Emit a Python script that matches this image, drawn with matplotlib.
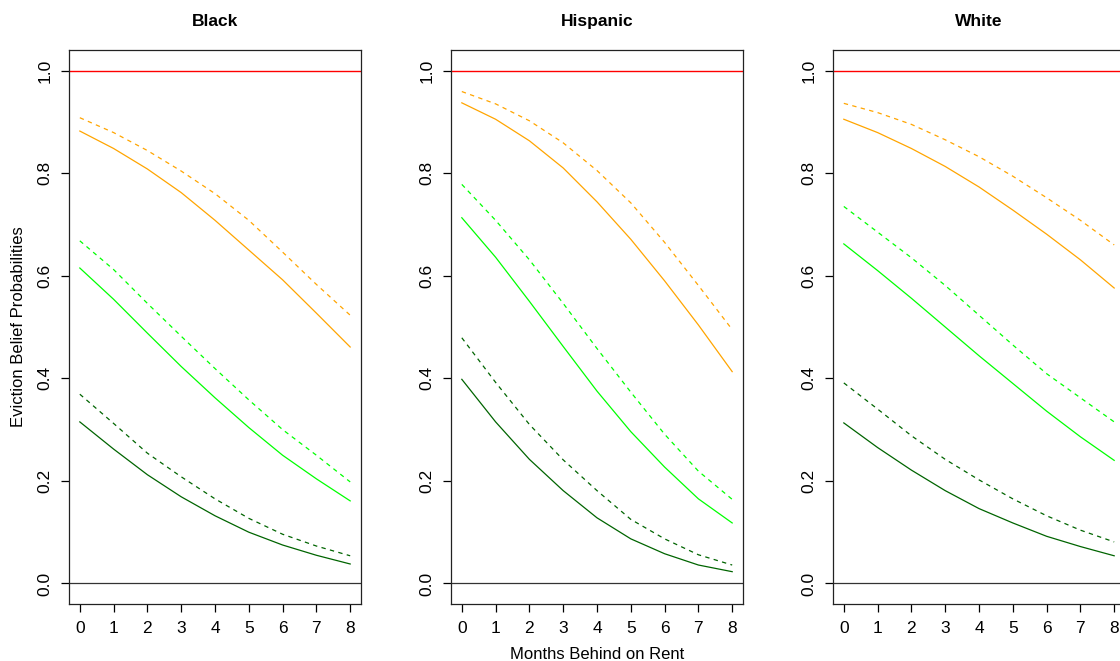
import matplotlib
matplotlib.use("Agg")
import matplotlib.pyplot as plt

plt.rcParams["font.family"] = ["Liberation Sans", "DejaVu Sans"]

months = [0, 1, 2, 3, 4, 5, 6, 7, 8]
groups = ["Black", "Hispanic", "White"]

# orange / green / darkgreen, solid and dashed
black_orange = [0.882, 0.848, 0.808, 0.762, 0.708, 0.650, 0.592, 0.527, 0.461]
black_orange_d = [0.908, 0.879, 0.844, 0.804, 0.760, 0.708, 0.646, 0.583, 0.523]
black_green = [0.615, 0.554, 0.488, 0.423, 0.362, 0.304, 0.250, 0.204, 0.161]
black_green_d = [0.668, 0.612, 0.546, 0.482, 0.419, 0.358, 0.300, 0.250, 0.198]
black_dark = [0.315, 0.262, 0.212, 0.169, 0.132, 0.100, 0.075, 0.055, 0.038]
black_dark_d = [0.369, 0.312, 0.254, 0.208, 0.165, 0.127, 0.096, 0.073, 0.054]

hisp_orange = [0.937, 0.905, 0.863, 0.810, 0.744, 0.671, 0.590, 0.504, 0.413]
hisp_orange_d = [0.959, 0.935, 0.902, 0.859, 0.805, 0.742, 0.665, 0.581, 0.495]
hisp_green = [0.713, 0.636, 0.550, 0.462, 0.375, 0.296, 0.227, 0.165, 0.118]
hisp_green_d = [0.778, 0.708, 0.631, 0.546, 0.458, 0.373, 0.291, 0.219, 0.164]
hisp_dark = [0.398, 0.315, 0.242, 0.181, 0.128, 0.087, 0.058, 0.036, 0.023]
hisp_dark_d = [0.479, 0.392, 0.310, 0.241, 0.181, 0.125, 0.087, 0.056, 0.036]

white_orange = [0.905, 0.879, 0.848, 0.813, 0.773, 0.728, 0.681, 0.631, 0.576]
white_orange_d = [0.936, 0.918, 0.895, 0.865, 0.832, 0.794, 0.752, 0.708, 0.660]
white_green = [0.662, 0.610, 0.556, 0.500, 0.444, 0.390, 0.336, 0.286, 0.240]
white_green_d = [0.735, 0.685, 0.635, 0.581, 0.523, 0.465, 0.409, 0.362, 0.315]
white_dark = [0.313, 0.265, 0.221, 0.181, 0.146, 0.118, 0.092, 0.072, 0.054]
white_dark_d = [0.391, 0.340, 0.288, 0.242, 0.202, 0.165, 0.132, 0.104, 0.081]

panels = [
    (black_orange, black_orange_d, black_green, black_green_d, black_dark, black_dark_d),
    (hisp_orange, hisp_orange_d, hisp_green, hisp_green_d, hisp_dark, hisp_dark_d),
    (white_orange, white_orange_d, white_green, white_green_d, white_dark, white_dark_d),
]
colors = ["#FFA500", "#FFA500", "#00FF00", "#00FF00", "#006400", "#006400"]

fig = plt.figure(figsize=(11.2, 6.61), dpi=100)
lefts = [69 / 1120, 451 / 1120, 833 / 1120]

for i, (name, series) in enumerate(zip(groups, panels)):
    ax = fig.add_axes([lefts[i], 57 / 661, 292 / 1120, 554 / 661])
    ax.axhline(1.0, color="#FF0000", lw=1.0)
    ax.axhline(0.0, color="#333333", lw=0.9)
    for j, (vals, c) in enumerate(zip(series, colors)):
        if j % 2 == 0:
            ax.plot(months, vals, color=c, lw=0.9)
        else:
            ax.plot(months, vals, color=c, lw=0.9, dashes=(3.5, 3.5))
    ax.set_xlim(-0.32, 8.32)
    ax.set_ylim(-0.04, 1.04)
    ax.set_xticks(months)
    ax.set_yticks([0.0, 0.2, 0.4, 0.6, 0.8, 1.0])
    ax.set_yticklabels(["0.0", "0.2", "0.4", "0.6", "0.8", "1.0"], rotation=90, va="center")
    ax.tick_params(direction="out", length=6, width=0.9, labelsize=12.5, pad=6)
    for s in ax.spines.values():
        s.set_linewidth(0.9)
        s.set_color("#222222")
    ax.set_title(name, fontsize=12.5, fontweight="bold", pad=17)
    if i == 0:
        ax.set_ylabel("Eviction Belief Probabilities", fontsize=12, labelpad=8)
    if i == 1:
        ax.set_xlabel("Months Behind on Rent", fontsize=12, labelpad=8)

fig.savefig("out.png", dpi=100)
